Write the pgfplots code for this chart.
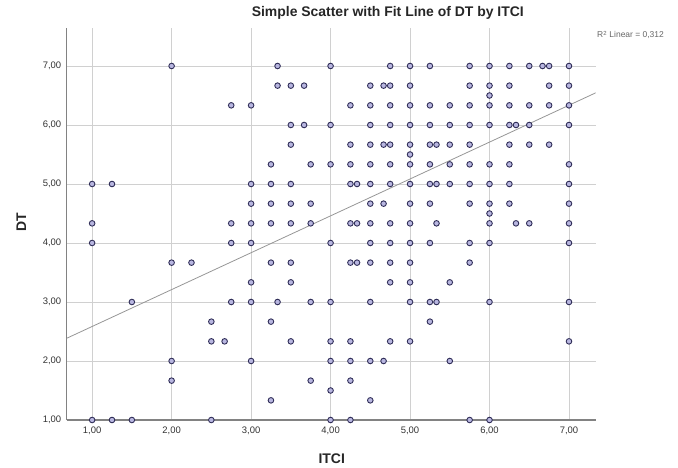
\documentclass[border=0pt]{standalone}
\usepackage{pgfplots}
\pgfplotsset{compat=1.18}
\usepackage{pgfplotstable}
\usepackage{fontspec}
\setmainfont{Liberation Sans}
\definecolor{ptfill}{RGB}{184,182,224}
\definecolor{ptedge}{RGB}{48,46,88}
\definecolor{gridc}{RGB}{208,208,208}
\definecolor{spine}{RGB}{130,130,130}
\definecolor{fitc}{RGB}{150,150,150}
\pgfplotstableread{
x y
2.0 7
3.333 7
4.0 7
4.75 7
5.0 7
5.25 7
5.75 7
6.0 7
6.25 7
6.5 7
6.667 7
6.75 7
7.0 7
3.333 6.667
3.5 6.667
3.667 6.667
4.5 6.667
4.667 6.667
4.75 6.667
5.0 6.667
5.75 6.667
6.0 6.667
6.25 6.667
6.75 6.667
7.0 6.667
6.0 6.5
2.75 6.333
3.0 6.333
4.25 6.333
4.5 6.333
4.75 6.333
5.0 6.333
5.25 6.333
5.5 6.333
5.75 6.333
6.0 6.333
6.25 6.333
6.5 6.333
6.75 6.333
7.0 6.333
3.5 6
3.667 6
4.0 6
4.5 6
4.75 6
5.0 6
5.25 6
5.5 6
5.75 6
6.0 6
6.25 6
6.333 6
6.5 6
7.0 6
3.5 5.667
4.25 5.667
4.5 5.667
4.667 5.667
4.75 5.667
5.0 5.667
5.25 5.667
5.333 5.667
5.5 5.667
5.75 5.667
6.25 5.667
6.5 5.667
6.75 5.667
5.0 5.5
3.25 5.333
3.75 5.333
4.0 5.333
4.25 5.333
4.5 5.333
4.75 5.333
5.0 5.333
5.25 5.333
5.5 5.333
5.75 5.333
6.0 5.333
6.25 5.333
7.0 5.333
1.0 5
1.25 5
3.0 5
3.25 5
3.5 5
4.25 5
4.333 5
4.5 5
4.75 5
5.0 5
5.25 5
5.333 5
5.5 5
5.75 5
6.0 5
6.25 5
7.0 5
3.0 4.667
3.25 4.667
3.5 4.667
3.75 4.667
4.5 4.667
4.667 4.667
5.0 4.667
5.25 4.667
5.75 4.667
6.0 4.667
6.25 4.667
7.0 4.667
6.0 4.5
1.0 4.333
2.75 4.333
3.0 4.333
3.25 4.333
3.5 4.333
3.75 4.333
4.25 4.333
4.333 4.333
4.5 4.333
4.75 4.333
5.0 4.333
5.333 4.333
6.0 4.333
6.333 4.333
6.5 4.333
7.0 4.333
1.0 4
2.75 4
3.0 4
4.0 4
4.5 4
4.75 4
5.0 4
5.25 4
5.75 4
6.0 4
7.0 4
2.0 3.667
2.25 3.667
3.25 3.667
3.5 3.667
4.25 3.667
4.333 3.667
4.5 3.667
4.75 3.667
5.0 3.667
5.75 3.667
3.0 3.333
3.5 3.333
4.75 3.333
5.0 3.333
5.5 3.333
1.5 3
2.75 3
3.0 3
3.333 3
3.75 3
4.0 3
4.5 3
5.0 3
5.25 3
5.333 3
6.0 3
7.0 3
2.5 2.667
3.25 2.667
5.25 2.667
2.5 2.333
2.667 2.333
3.5 2.333
4.0 2.333
4.25 2.333
4.75 2.333
5.0 2.333
7.0 2.333
2.0 2
3.0 2
4.0 2
4.25 2
4.5 2
4.667 2
5.5 2
2.0 1.667
3.75 1.667
4.25 1.667
4.0 1.5
3.25 1.333
4.5 1.333
1.0 1
1.25 1
1.5 1
2.5 1
4.0 1
4.25 1
5.75 1
6.0 1
}\pts
\pgfplotstableread{
x y
0.68 2.385
7.336 6.545
}\fit
\begin{document}
\begin{tikzpicture}
\path[use as bounding box] (0,0) rectangle (678bp,468bp);
\begin{axis}[
  at={(66.7bp,48bp)}, anchor=south west,
  scale only axis, width=529bp, height=392bp,
  xmin=0.68, xmax=7.336, ymin=1, ymax=7.644,
  axis x line*=bottom, axis y line*=left,
  axis line style={draw=spine, line width=1.3bp},
  xtick={1,2,3,4,5,6,7}, ytick={1,2,3,4,5,6,7},
  xticklabels={{1,00},{2,00},{3,00},{4,00},{5,00},{6,00},{7,00}},
  yticklabels={{1,00},{2,00},{3,00},{4,00},{5,00},{6,00},{7,00}},
  major tick length=0pt,
  grid=major, major grid style={draw=gridc, line width=0.8bp},
  tick label style={font=\fontsize{9.5}{11}\selectfont, text=black!80},
  xticklabel style={yshift=-3bp},
  yticklabel style={xshift=-2bp},
  xlabel={ITCI}, ylabel={DT},
  xlabel style={font=\bfseries\fontsize{14}{16}\selectfont, text=black!85, at={(axis description cs:0.501,-0.0995)}, anchor=center},
  ylabel style={font=\bfseries\fontsize{14}{16}\selectfont, text=black!85, at={(axis description cs:-0.086,0.505)}, anchor=center},
  title={Simple Scatter with Fit Line of DT by ITCI},
  title style={font=\bfseries\fontsize{14}{16}\selectfont, text=black!85, at={(axis description cs:0.607,1.022)}, anchor=center},
]
\addplot[fitc, line width=0.8bp] table[x=x,y=y] {\fit};
\addplot[only marks, mark=*, mark size=2.8bp, mark options={fill=ptfill, draw=ptedge, line width=0.9bp}] table[x=x,y=y] {\pts};
\end{axis}
\node[anchor=west, font=\fontsize{8.5}{10}\selectfont, text=black!60, inner sep=0pt] at (597bp,433bp) {R\textsuperscript{2} Linear = 0,312};
\end{tikzpicture}
\end{document}
